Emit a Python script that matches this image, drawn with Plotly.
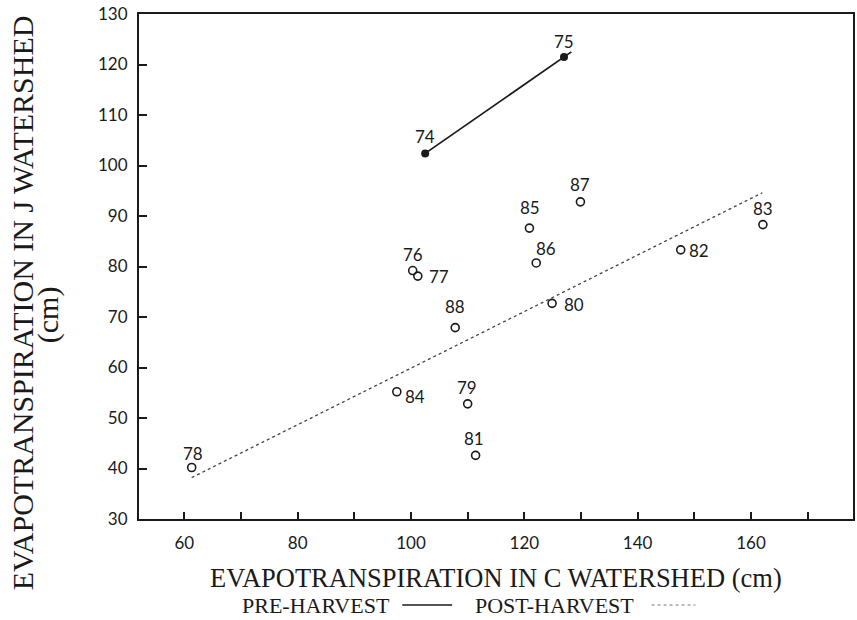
import plotly.graph_objects as go

# Pre-harvest years (filled points joined by a line)
pre_years = ["74", "75"]
pre_c = [102.5, 127.0]
pre_j = [102.4, 121.5]
pre_line_c = [102.5, 128.3]
pre_line_j = [102.4, 122.5]

# Post-harvest years (open points)
post_years = ["76", "77", "78", "79", "80", "81", "82", "83", "84", "85", "86", "87", "88"]
post_c = [100.3, 101.2, 61.3, 110.0, 124.9, 111.4, 147.6, 162.1, 97.5, 120.9, 122.1, 129.9, 107.8]
post_j = [79.2, 78.1, 40.2, 52.8, 72.7, 42.6, 83.3, 88.3, 55.2, 87.6, 80.7, 92.8, 67.9]

# Post-harvest regression line end points
fit_c = [61.3, 162.0]
fit_j = [38.2, 94.6]

x_ticks = list(range(60, 171, 10))
x_tick_text = [str(v) if v % 20 == 0 else "" for v in x_ticks]
y_ticks = list(range(30, 131, 10))

# label offsets in pixels (dx, dy) for each year
label_offsets = {
    "74": (0, 17), "75": (0, 15), "76": (0, 16), "77": (21, 0), "78": (1, 14),
    "79": (-1, 16), "80": (22, -1), "81": (-2, 17), "82": (18, -1), "83": (0, 16),
    "84": (18, -5), "85": (1, 21), "86": (10, 14), "87": (0, 17), "88": (0, 21),
}

INK = "#1a1a1a"
NUM_FONT = dict(family="Lato, 'DejaVu Sans', sans-serif", size=17, color=INK)
SERIF = "'Liberation Serif', 'DejaVu Serif', serif"

# plot area in pixels
L, R, T, B = 139, 855, 14, 519
W, H = 857, 620


def px_x(p):
    return (p - L) / (R - L)


def px_y(p):
    return (B - p) / (B - T)


fig = go.Figure()

fig.add_trace(go.Scatter(
    x=fit_c, y=fit_j, mode="lines",
    line=dict(color="#444", width=1.3, dash="dot"),
    showlegend=False, hoverinfo="skip",
))
fig.add_trace(go.Scatter(
    x=pre_line_c, y=pre_line_j, mode="lines",
    line=dict(color=INK, width=1.8),
    showlegend=False, hoverinfo="skip",
))
fig.add_trace(go.Scatter(
    x=pre_c, y=pre_j, mode="markers",
    marker=dict(symbol="circle", size=8, color=INK),
    showlegend=False,
))
fig.add_trace(go.Scatter(
    x=post_c, y=post_j, mode="markers",
    marker=dict(symbol="circle-open", size=8, color=INK, line=dict(width=1.6)),
    showlegend=False,
))

annotations = []
for years, xs, ys in ((pre_years, pre_c, pre_j), (post_years, post_c, post_j)):
    for yr, xv, yv in zip(years, xs, ys):
        dx, dy = label_offsets[yr]
        annotations.append(dict(
            x=xv, y=yv, xref="x", yref="y", text=yr, showarrow=False,
            xanchor="center", yanchor="middle",
            xshift=dx, yshift=dy, font=NUM_FONT,
        ))

# x-axis title
annotations.append(dict(
    x=px_x(497), y=px_y(578), xref="paper", yref="paper",
    xanchor="center", yanchor="middle",
    text="EVAPOTRANSPIRATION IN C WATERSHED (cm)", showarrow=False,
    font=dict(family=SERIF, size=26.5, color=INK),
))
# y-axis title, two lines
annotations.append(dict(
    x=px_x(22), y=px_y(303), xref="paper", yref="paper",
    xanchor="center", yanchor="middle", textangle=-90,
    text="EVAPOTRANSPIRATION IN J WATERSHED", showarrow=False,
    font=dict(family=SERIF, size=30, color=INK),
))
annotations.append(dict(
    x=px_x(48), y=px_y(315), xref="paper", yref="paper",
    xanchor="center", yanchor="middle", textangle=-90,
    text="(cm)", showarrow=False,
    font=dict(family=SERIF, size=30, color=INK),
))

# legend row
LEG_Y = px_y(605)
annotations.append(dict(
    x=px_x(316), y=LEG_Y, xref="paper", yref="paper", xanchor="center", yanchor="middle",
    text="PRE-HARVEST", showarrow=False, font=dict(family=SERIF, size=22, color=INK),
))
annotations.append(dict(
    x=px_x(556), y=LEG_Y, xref="paper", yref="paper", xanchor="center", yanchor="middle",
    text="POST-HARVEST", showarrow=False, font=dict(family=SERIF, size=22, color=INK),
))

fig.update_layout(
    width=W, height=H,
    margin=dict(l=L, r=W - R, t=T, b=H - B),
    paper_bgcolor="white", plot_bgcolor="white",
    showlegend=False,
    xaxis=dict(
        range=[52, 178], tickvals=x_ticks, ticktext=x_tick_text,
        ticks="inside", ticklen=7, tickwidth=1.5, tickcolor=INK,
        showline=True, linecolor=INK, linewidth=2, mirror=True,
        showgrid=False, zeroline=False, tickfont=NUM_FONT,
        ticklabelstandoff=8,
    ),
    yaxis=dict(
        range=[30, 130], tickvals=y_ticks,
        ticks="inside", ticklen=8, tickwidth=1.5, tickcolor=INK,
        showline=True, linecolor=INK, linewidth=2, mirror=True,
        showgrid=False, zeroline=False, tickfont=NUM_FONT,
        ticklabelstandoff=6,
    ),
    annotations=annotations,
)

fig.add_shape(type="line", xref="paper", yref="paper", x0=px_x(403), x1=px_x(453),
              y0=LEG_Y, y1=LEG_Y, line=dict(color=INK, width=1.5))
fig.add_shape(type="line", xref="paper", yref="paper", x0=px_x(653), x1=px_x(697),
              y0=LEG_Y, y1=LEG_Y, line=dict(color="#777", width=1, dash="dot"))

fig.write_html("out.html")
